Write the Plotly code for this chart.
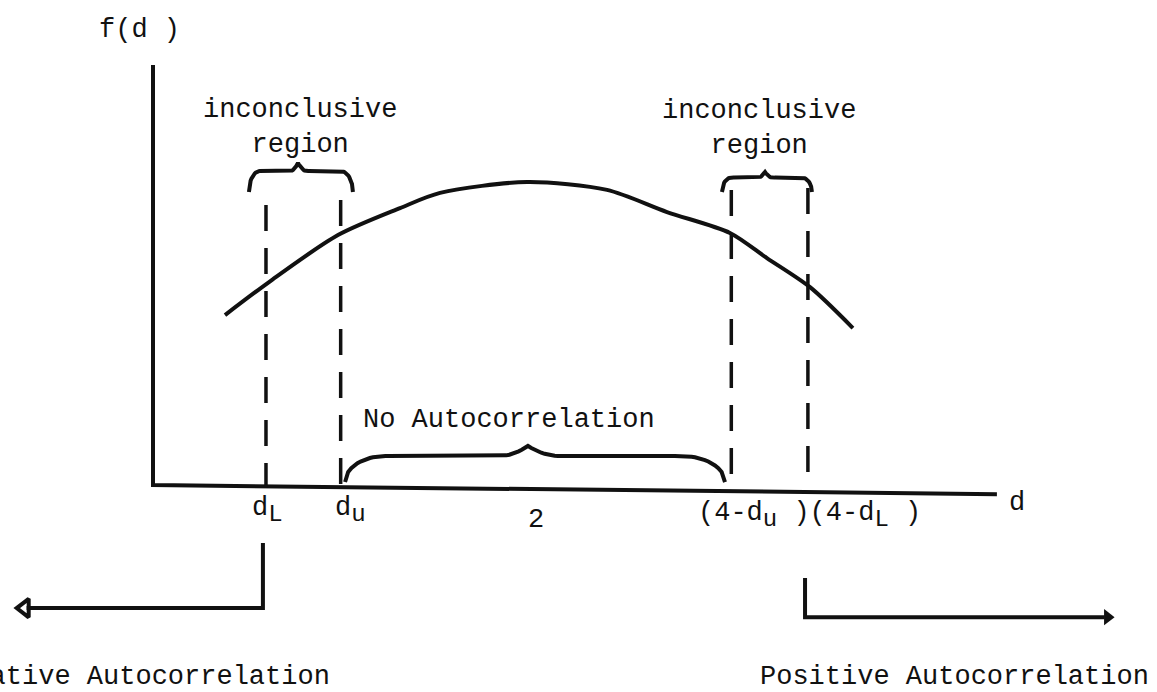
import numpy as np
import plotly.graph_objects as go

# ---- data (d on x, f(d) on y; arbitrary density units) ----
curve_d = [0.376, 0.606, 0.966, 1.290, 1.499, 1.953, 2.371, 2.684, 3.013, 3.206, 3.431, 3.655]
curve_f = [0.561, 0.670, 0.825, 0.914, 0.964, 1.000, 0.974, 0.901, 0.832, 0.749, 0.653, 0.518]

critical_names = ["d_L", "d_u", "4-d_u", "4-d_L"]
critical_d = [0.59, 0.98, 3.02, 3.42]
critical_top = [0.924, 0.941, 0.974, 0.980]

# braces: (start d, end d, peak d, base f, peak f)
brace_left = [0.501, 1.044, 0.757, 0.967, 1.063]
brace_right = [2.971, 3.441, 3.196, 0.967, 1.033]
brace_bottom = [1.003, 2.987, 1.958, 0.010, 0.129]

axis_x_end = 4.407
axis_y_end = 1.386

SUB = '<sub><span style="font-size:24px">{}</span></sub>'
tick_text = ["d" + SUB.format("L"), "d" + SUB.format("u"), "2",
             "(4-d" + SUB.format("u") + " )(4-d" + SUB.format("L") + " )"]
tick_pos = [0.60, 1.03, 2.0, 3.43]
tick_y = [-0.085, -0.085, -0.115, -0.100]

INK = "#111111"
FONT = "Courier New, Liberation Mono, monospace"


def brace(x0, x1, xp, yb, yp, n=60):
    h = yp - yb
    def half(t):
        c = 0.72 * np.sqrt(1 - (1 - np.minimum(t / 0.22, 1)) ** 2)
        p = 0.28 * np.maximum(0, (t - 0.84) / 0.16) ** 2
        return c + p
    t = np.linspace(0, 1, n)
    xl = x0 + t * (xp - x0)
    yl = yb + h * half(t)
    xr = x1 + t * (xp - x1)
    yr = yb + h * half(t)
    return np.concatenate([xl, xr[::-1]]), np.concatenate([yl, yr[::-1]])


fig = go.Figure()

# axes
fig.add_trace(go.Scatter(x=[0, 0, axis_x_end], y=[axis_y_end, 0, -0.03], mode="lines",
                         line=dict(color=INK, width=4), hoverinfo="skip"))

# density curve
fig.add_trace(go.Scatter(x=curve_d, y=curve_f, mode="lines",
                         line=dict(color=INK, width=4, shape="spline", smoothing=0.8), hoverinfo="skip"))

# dashed critical lines
for cd, ct in zip(critical_d, critical_top):
    fig.add_trace(go.Scatter(x=[cd, cd], y=[ct, -0.01], mode="lines",
                             line=dict(color=INK, width=3.5, dash="26px,17px"), hoverinfo="skip"))

# braces
for b in (brace_left, brace_right, brace_bottom):
    bx, by = brace(*b)
    fig.add_trace(go.Scatter(x=bx, y=by, mode="lines", line=dict(color=INK, width=4), hoverinfo="skip"))

# arrows
neg_x = [critical_d[0] - 0.016, critical_d[0] - 0.016, -0.66]
neg_y = [-0.191, -0.406, -0.406]
pos_x = [critical_d[3] - 0.015, critical_d[3] - 0.015, 4.97]
pos_y = [-0.307, -0.436, -0.436]
fig.add_trace(go.Scatter(x=neg_x, y=neg_y, mode="lines", line=dict(color=INK, width=4), hoverinfo="skip"))
fig.add_trace(go.Scatter(x=pos_x, y=pos_y, mode="lines", line=dict(color=INK, width=4), hoverinfo="skip"))
fig.add_trace(go.Scatter(x=[-0.67], y=[-0.406], mode="markers",
                         marker=dict(symbol="triangle-left-open", size=16, color=INK, line=dict(width=4, color=INK)),
                         hoverinfo="skip"))
fig.add_trace(go.Scatter(x=[4.985], y=[-0.436], mode="markers",
                         marker=dict(symbol="triangle-right", size=14, color=INK), hoverinfo="skip"))


def txt(x, y, s, xanchor="center", size=27):
    fig.add_annotation(x=x, y=y, text=s, showarrow=False, xanchor=xanchor, yanchor="middle",
                       font=dict(family=FONT, size=size, color=INK))


txt(-0.073, 1.502, "f(d )")
txt(0.768, 1.181, "inconclusive<br>region")
txt(3.164, 1.175, "inconclusive<br>region")
txt(1.859, 0.215, "No Autocorrelation")
txt(4.512, -0.059, "d")
for s, p, ty in zip(tick_text, tick_pos, tick_y):
    txt(p, ty, s)
txt(0.935, -0.633, "Negative Autocorrelation", xanchor="right")
txt(5.210, -0.633, "Positive Autocorrelation", xanchor="right")

fig.update_layout(
    width=1157, height=692, margin=dict(l=0, r=0, t=0, b=0),
    paper_bgcolor="white", plot_bgcolor="white", showlegend=False,
    xaxis=dict(range=[-0.799, 5.243], visible=False, fixedrange=True),
    yaxis=dict(range=[-0.683, 1.6007], visible=False, fixedrange=True),
)

fig.write_html("out.html", config={"displayModeBar": False},
               post_script="document.body.style.margin='0';document.body.style.overflow='hidden';")
